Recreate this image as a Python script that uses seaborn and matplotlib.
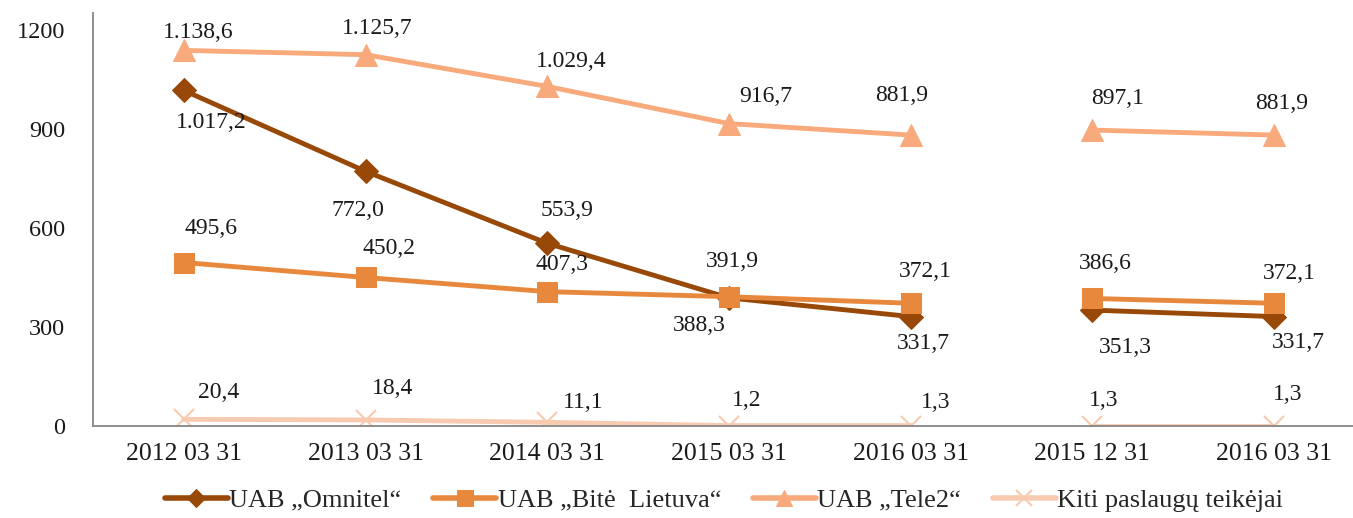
import pandas as pd
import matplotlib.pyplot as plt
import seaborn as sns
from matplotlib.colors import to_hex
from matplotlib.ticker import FixedLocator

# Data
dates = ['2012 03 31', '2013 03 31', '2014 03 31', '2015 03 31', '2016 03 31', '2015 12 31', '2016 03 31']
segment = [0, 0, 0, 0, 0, 1, 1]
series_names = ['UAB „Omnitel“', 'UAB „Bitė  Lietuva“', 'UAB „Tele2“', 'Kiti paslaugų teikėjai']
omnitel = [1017.2, 772.0, 553.9, 388.3, 331.7, 351.3, 331.7]
bite = [495.6, 450.2, 407.3, 391.9, 372.1, 386.6, 372.1]
tele2 = [1138.6, 1125.7, 1029.4, 916.7, 881.9, 897.1, 881.9]
kiti = [20.4, 18.4, 11.1, 1.2, 1.3, 1.3, 1.3]

colors = ['#984807', '#e8883c', '#f8aa7c', '#f8cbb0']
markers = ['D', 's', '^', 'x']
msizes = [12.5, 14.5, 15.5, 15]

# label offsets in pixels (dx, dy up) for each point
label_offsets = [
    [(27, -32), (-8, -39), (20, 33), (-30, -28), (13, -27), (33, -37), (24, -26)],
    [(27, 34), (23, 29), (15, 27), (3, 35), (15, 32), (13, 35), (15, 30)],
    [(14, 18), (12, 26), (24, 25), (37, 27), (-9, 40), (25, 32), (7, 32)],
    [(35, 27), (27, 31), (36, 20), (18, 25), (25, 23), (11, 25), (14, 31)],
]

rows = []
for name, vals in zip(series_names, [omnitel, bite, tele2, kiti]):
    for i, v in enumerate(vals):
        rows.append({'pos': i, 'value': v, 'series': name, 'seg': segment[i]})
df = pd.DataFrame(rows)

sns.set_style('white')
plt.rcParams['font.family'] = ['Liberation Serif', 'DejaVu Serif']

fig = plt.figure(figsize=(13.53, 5.18), dpi=100)
ax = fig.add_axes([93 / 1353, 92 / 518, 1272 / 1353, 413 / 518])

sns.lineplot(data=df, x='pos', y='value', hue='series', units='seg',
             estimator=None, palette=dict(zip(series_names, colors)),
             linewidth=3.5, ax=ax, legend=True)

handles, labels = ax.get_legend_handles_labels()
ax.get_legend().remove()


def style_line(line):
    c = to_hex(line.get_color())
    if c not in colors:
        return
    k = colors.index(c)
    line.set_marker(markers[k])
    line.set_markersize(msizes[k])
    line.set_markeredgecolor(c)
    line.set_markerfacecolor(c)
    if markers[k] == 'x':
        line.set_markeredgewidth(1.5)


for line in ax.lines:
    style_line(line)
for h in handles:
    style_line(h)
    h.set_linewidth(4)


def fmt(v):
    s = f'{v:,.1f}'
    return s.replace(',', ' ').replace('.', ',').replace(' ', '.')


for vals, offs in zip([omnitel, bite, tele2, kiti], label_offsets):
    for i, v in enumerate(vals):
        dx, dy = offs[i]
        ax.annotate(fmt(v), (i, v), xytext=(dx * 0.72, dy * 0.72), textcoords='offset points',
                    ha='center', va='center', fontsize=17, color='#1a1a1a')

ax.set_xlim(-0.5, 6.5)
ax.set_ylim(0, 1252)
ax.set_yticks([0, 300, 600, 900, 1200])
ax.set_xticks(range(len(dates)))
ax.set_xticklabels(dates)
ax.xaxis.set_minor_locator(FixedLocator([i - 0.5 for i in range(len(dates) + 1)]))
ax.tick_params(axis='x', which='major', length=0, pad=12, labelsize=18.5, labelcolor='#1a1a1a')
ax.tick_params(axis='x', which='minor', length=7, width=1.3, color='#868686', direction='out')
ax.tick_params(axis='y', length=7, width=1.3, color='#868686', direction='out', pad=13,
               labelsize=17.5, labelcolor='#1a1a1a')
ax.set_xlabel('')
ax.set_ylabel('')
sns.despine(ax=ax)
for sp in ['left', 'bottom']:
    ax.spines[sp].set_color('#868686')
    ax.spines[sp].set_linewidth(1.3)

fig.legend(handles, labels, loc='center', bbox_to_anchor=(724 / 1353, 1 - 500 / 518), ncol=4,
           frameon=False, fontsize=19, handlelength=2.4, handletextpad=0.05, columnspacing=1.2,
           markerscale=0.75)

plt.savefig('out.png', dpi=100)
plt.close()
